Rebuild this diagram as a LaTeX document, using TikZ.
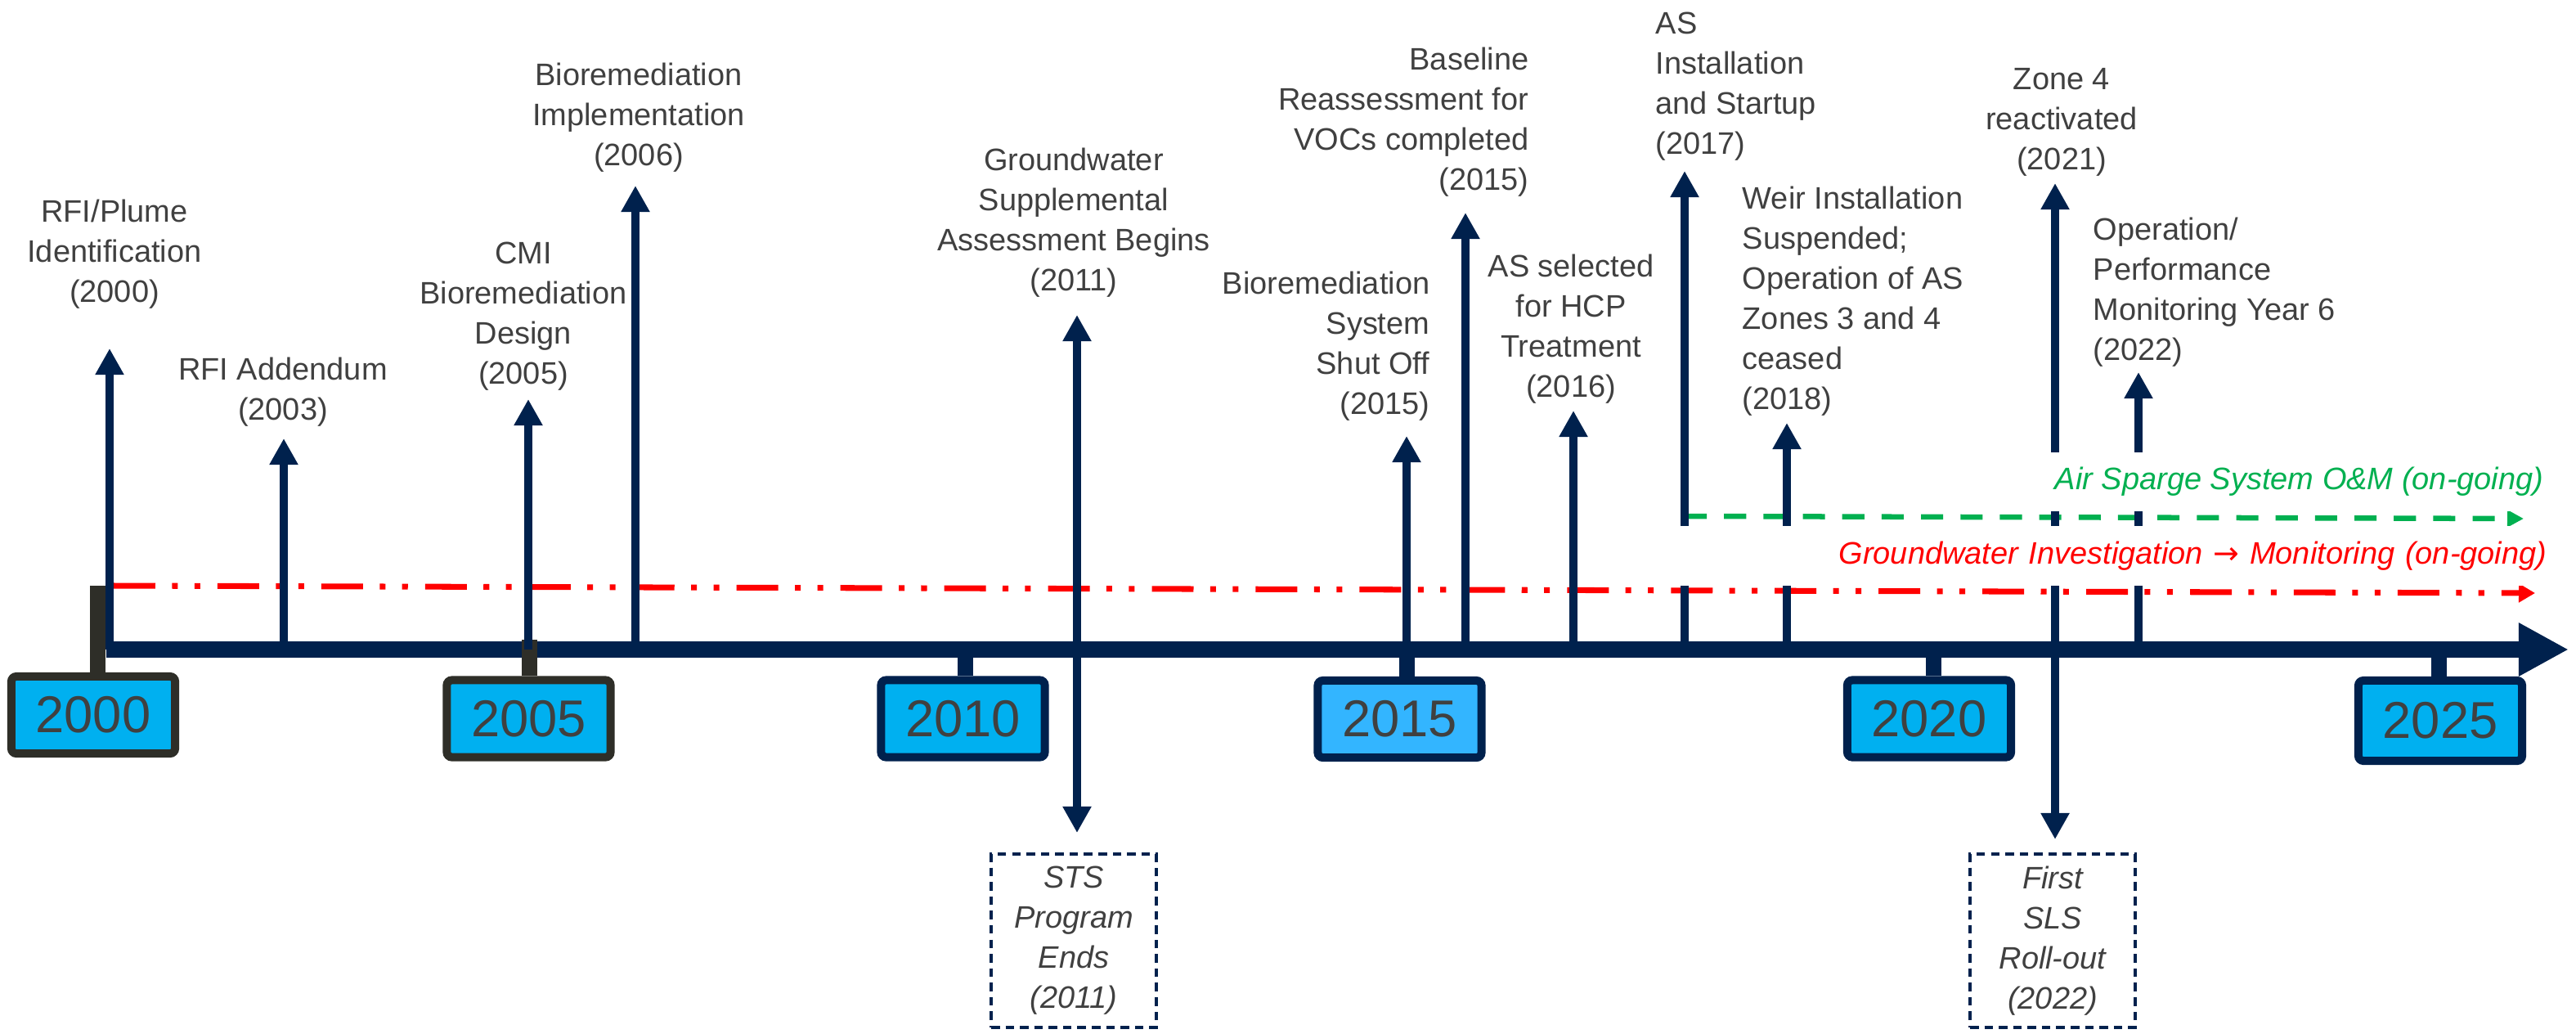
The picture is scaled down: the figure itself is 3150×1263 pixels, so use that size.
\documentclass[tikz,border=0pt]{standalone}
\usepackage{fontspec}
\setmainfont{Liberation Sans}
\newfontfamily\arrowfont{DejaVu Sans}
\usetikzlibrary{arrows.meta}
\definecolor{navy}{RGB}{0,33,77}
\definecolor{boxline}{RGB}{46,46,40}
\definecolor{yearblue}{RGB}{0,176,240}
\definecolor{yearlight}{RGB}{51,181,255}
\definecolor{txtgray}{RGB}{64,64,64}
\definecolor{spgreen}{RGB}{0,176,80}
\tikzset{
  timeline/.style={line width=2mm,draw=navy,-{Triangle[length=6.1mm,width=6.1mm]}},
  event/.style={line width=1mm,draw=navy,-{Triangle[length=3.2mm,width=3.3mm]}},
  yeartick/.style={line width=1.9mm,draw=navy},
  yearbox/.style={draw=navy,line width=1mm,fill=yearblue,rounded corners=0.6mm,minimum width=2cm,minimum height=0.94cm,inner sep=0pt,text=txtgray,font=\fontsize{18}{20}\selectfont},
  lbl/.style={inner sep=0pt,text=txtgray,font=\fontsize{10.8}{13.94}\selectfont},
  endbox/.style={lbl,align=center,draw=navy,line width=0.9pt,dash pattern=on 3pt off 2pt,minimum width=2.02cm,minimum height=2.12cm,font=\fontsize{10.8}{13.94}\selectfont\itshape},
  trend/.style={inner sep=0pt,fill=white,font=\fontsize{10.8}{13}\selectfont\itshape},
  monitor/.style={line width=2pt,draw=red,dash pattern=on 14.5pt off 5.8pt on 2pt off 5.8pt on 2pt off 6pt,-{Triangle[length=2mm,width=2.2mm]}},
  sparge/.style={line width=1.85pt,draw=spgreen,dash pattern=on 7.7pt off 6pt,-{Triangle[length=2mm,width=2mm]}}
}
\begin{document}
\begin{tikzpicture}[x=0.01cm,y=-0.01cm]
  \useasboundingbox (0,0) rectangle (3150,1263);
  % time axis
  \coordinate (ax0) at (130,794);
  \coordinate (ax1) at (3141,794);
  \draw[timeline] (ax0) -- (ax1);

  % year markers
  \coordinate (k2000) at (119.5,716);
  \coordinate (k2005) at (647,782);
  \coordinate (k2010) at (1180,794);
  \coordinate (k2015) at (1720,794);
  \coordinate (k2020) at (2364,794);
  \coordinate (k2025) at (2982,794);
  \node[yearbox,draw=boxline] (y2000) at (114,874) {2000};
  \node[yearbox,draw=boxline] (y2005) at (646.5,878.5) {2005};
  \node[yearbox] (y2010) at (1177.5,878.5) {2010};
  \node[yearbox,fill=yearlight] (y2015) at (1711.5,879) {2015};
  \node[yearbox] (y2020) at (2359,878.5) {2020};
  \node[yearbox,minimum height=0.98cm] (y2025) at (2984,881) {2025};
  \draw[yeartick,draw=boxline] (k2000) -- (y2000.north -| k2000);
  \draw[yeartick,draw=boxline] (k2005) -- (y2005.north -| k2005);
  \draw[yeartick] (k2010) -- (y2010.north -| k2010);
  \draw[yeartick] (k2015) -- (y2015.north -| k2015);
  \draw[yeartick] (k2020) -- (y2020.north -| k2020);
  \draw[yeartick] (k2025) -- (y2025.north -| k2025);

  % ongoing activities
  \coordinate (gwS) at (139,716);
  \coordinate (gwE) at (3100,725);
  \coordinate (asS) at (2060,631);
  \coordinate (asE) at (3086,634);
  \draw[monitor] (gwS) -- (gwE);
  \draw[sparge] (asS) -- (asE);

  % events
  \coordinate (e2000) at (134,426);
  \coordinate (e2003) at (347,536);
  \coordinate (e2005) at (646,488);
  \coordinate (e2006) at (777,227);
  \coordinate (e2011) at (1317,385);
  \coordinate (e2015a) at (1720,533);
  \coordinate (e2015b) at (1792,260);
  \coordinate (e2016) at (1924,502);
  \coordinate (e2017) at (2060,209);
  \coordinate (e2018) at (2185,517);
  \coordinate (e2021) at (2513,224);
  \coordinate (e2022) at (2615,455);
  \coordinate (d2011) at (1317,1018);
  \coordinate (d2022) at (2513,1026);
  \draw[event] (e2000 |- ax0) -- (e2000);
  \draw[event] (e2003 |- ax0) -- (e2003);
  \draw[event] (e2005 |- ax0) -- (e2005);
  \draw[event] (e2006 |- ax0) -- (e2006);
  \draw[event] (e2011 |- ax0) -- (e2011);
  \draw[event] (e2015a |- ax0) -- (e2015a);
  \draw[event] (e2015b |- ax0) -- (e2015b);
  \draw[event] (e2016 |- ax0) -- (e2016);
  \draw[event] (e2017 |- ax0) -- (e2017);
  \draw[event] (e2018 |- ax0) -- (e2018);
  \draw[event] (e2021 |- ax0) -- (e2021);
  \draw[event] (e2022 |- ax0) -- (e2022);
  \draw[event] (d2011 |- ax0) -- (d2011);
  \draw[event] (d2022 |- ax0) -- (d2022);

  % event labels
  \node[lbl,align=center,anchor=south] (n2000) at (140,378) {RFI/Plume\\Identification\\(2000)};
  \node[lbl,align=center,anchor=south] (n2003) at (346,522) {RFI Addendum\\(2003)};
  \node[lbl,align=center,anchor=south] (n2005) at (640,478) {CMI\\Bioremediation\\Design\\(2005)};
  \node[lbl,align=center,anchor=south] (n2006) at (781,211) {Bioremediation\\Implementation\\(2006)};
  \node[lbl,align=center,anchor=south] (n2011) at (1313,364) {Groundwater\\Supplemental\\Assessment Begins\\(2011)};
  \node[lbl,align=right,anchor=south east] (n2015a) at (1749,515) {Bioremediation\\System\\Shut Off\\(2015)};
  \node[lbl,align=right,anchor=south east] (n2015b) at (1870,241) {Baseline\\Reassessment for\\VOCs completed\\(2015)};
  \node[lbl,align=center,anchor=south] (n2016) at (1921,494) {AS selected\\for HCP\\Treatment\\(2016)};
  \node[lbl,align=left,anchor=south west] (n2017) at (2024,197) {AS\\Installation\\and Startup\\(2017)};
  \node[lbl,align=left,anchor=south west] (n2018) at (2130,509) {Weir Installation\\Suspended;\\Operation of AS\\Zones 3 and 4\\ceased\\(2018)};
  \node[lbl,align=center,anchor=south] (n2021) at (2521,216) {Zone 4\\reactivated\\(2021)};
  \node[lbl,align=left,anchor=south west] (n2022) at (2559,449) {Operation/\\Performance\\Monitoring Year 6\\(2022)};
  \node[endbox] (sts) at (1313,1150) {STS\\Program\\Ends\\(2011)};
  \node[endbox] (sls) at (2510,1150) {First\\SLS\\Roll-out\\(2022)};

  % ongoing labels
  \node[trend,text=spgreen,anchor=east,inner xsep=0.15cm,minimum height=0.72cm] (astext) at (3126,589) {Air Sparge System O\&M (on-going)};
  \node[trend,text=red,anchor=east,text width=10.75cm,align=right,minimum height=0.73cm] (gwtext) at (3115,679.5) {Groundwater Investigation {\arrowfont\itshape →} Monitoring (on-going)};
\end{tikzpicture}
\end{document}
